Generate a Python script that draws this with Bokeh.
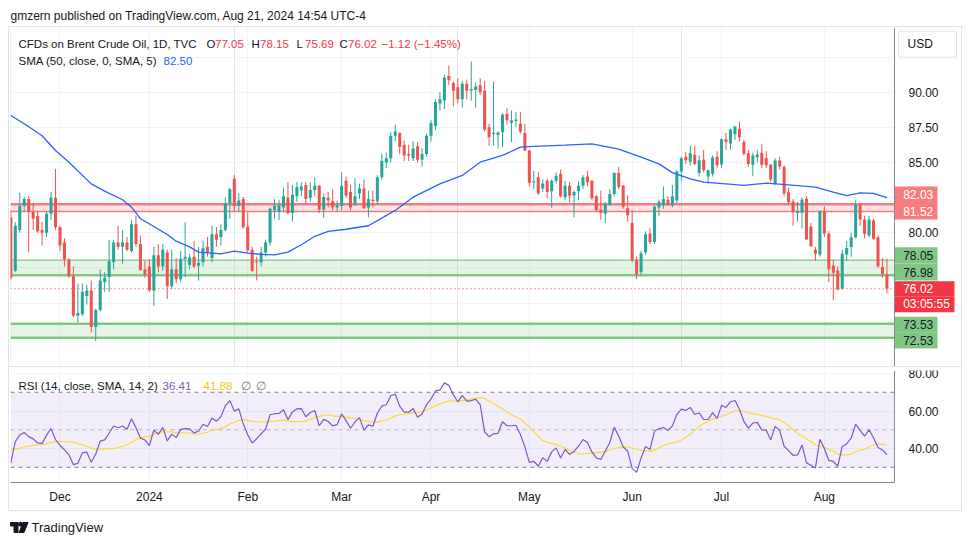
import pandas as pd
from bokeh.plotting import figure
from bokeh.models import (Range1d, FixedTicker, Span, BoxAnnotation, Label, Grid,
                          NumeralTickFormatter, ColumnDataSource, Div, Spacer)
from bokeh.layouts import column, row
from bokeh.embed import file_html
from bokeh.resources import INLINE

# ---------------- data ----------------
first_day = "2023-11-16"
last_day = "2024-08-21"
holidays = ["2023-12-25", "2024-01-01", "2024-03-29"]

opens = [
    81.1, 77.3, 80.2, 81.9, 82.4, 81.5, 81.2, 80.2, 80.0, 81.35, 82.5,
    80.4, 79.3, 78.1, 76.9, 74.1, 74.2, 75.5, 75.9, 73.3, 74.5, 76.5, 76.85, 77.9, 79.3, 79.0, 79.3, 78.7, 80.6, 79.2, 77.4,
    77.6, 75.9, 78.4, 77.6, 78.6, 76.2, 77.4, 76.7, 78.15, 77.7, 78.3, 77.65, 77.9, 79.0, 78.2, 79.9, 79.7, 80.2, 82.1, 83.85, 81.9, 82.4,
    80.45, 78.8, 77.95, 77.9, 78.6, 79.3, 81.6, 81.5, 81.8, 82.5, 81.4, 82.6, 83.0, 83.4, 82.5, 83.05, 83.35, 81.65, 82.5, 82.25, 81.8,
    81.9, 83.7, 82.9, 82.0, 82.8, 83.15, 81.8, 82.35, 82.25, 83.95, 85.0, 85.3, 86.9, 87.1, 86.25, 85.6, 85.3, 86.15, 85.2, 85.6,
    86.9, 87.6, 89.2, 89.4, 91.15, 90.65, 90.35, 89.5, 90.6, 90.1, 90.15, 90.5, 90.1, 87.5, 87.05, 86.95, 87.15, 88.45, 87.8, 87.95, 87.75, 87.1,
    85.85, 83.6, 83.95, 83.15, 83.7, 82.95, 83.7, 84.2, 82.55, 83.35, 82.65, 82.95, 83.35, 84.0, 83.7, 82.6, 81.65, 81.35, 82.0, 82.75, 84.25, 83.35, 81.75,
    80.7, 78.1, 77.2, 78.6, 79.95, 79.35, 81.8, 81.95, 82.35, 81.95, 82.3, 84.35, 85.4, 85.05, 85.55, 84.25, 85.2, 84.0, 84.2, 85.4,
    84.85, 86.65, 86.35, 87.0, 87.4, 86.45, 85.66, 84.83, 85.38, 85.69, 85.3, 84.83, 83.48, 85.14, 84.67, 82.89, 82.23, 81.4, 81.42, 82.42, 80.45, 78.81, 78.43,
    81.52, 79.93, 77.67, 77.32, 76.02, 78.43, 78.98, 79.69, 81.99, 80.95, 79.81, 80.88, 79.69, 77.56, 77.05,
]
highs = [
    81.6, 80.75, 82.85, 82.55, 82.6, 82.1, 81.5, 80.8, 81.5, 82.9, 84.55,
    80.5, 79.6, 78.2, 77.6, 76.4, 76.4, 76.3, 76.6, 74.6, 77.4, 77.2, 79.5, 79.5, 80.5, 80.2, 79.7, 80.9, 81.2, 79.8, 78.0,
    78.1, 79.0, 79.2, 79.2, 78.8, 78.8, 78.2, 78.7, 80.75, 78.5, 79.4, 79.0, 79.45, 79.7, 80.5, 80.4, 80.6, 82.5, 83.2, 84.1, 82.8, 82.55,
    81.45, 79.0, 78.3, 79.0, 79.5, 81.8, 82.4, 82.35, 83.2, 83.6, 83.4, 83.6, 83.6, 83.6, 83.6, 83.95, 83.4, 82.8, 82.9, 83.1, 82.3,
    84.3, 84.0, 83.4, 83.9, 83.5, 83.8, 83.0, 83.0, 84.1, 85.6, 85.7, 87.15, 87.7, 87.15, 86.55, 86.25, 86.5, 86.45, 86.0, 87.05,
    88.0, 89.5, 90.0, 91.25, 91.9, 90.75, 91.0, 90.8, 90.9, 92.18, 90.7, 91.0, 90.8, 87.75, 90.75, 87.2, 88.5, 88.87, 88.7, 88.6, 88.6, 87.75,
    85.9, 84.4, 84.3, 83.8, 83.85, 83.8, 84.3, 84.5, 83.7, 83.6, 83.0, 83.65, 84.1, 84.4, 83.75, 82.7, 83.0, 82.2, 83.1, 84.3, 84.7, 83.4, 82.65,
    81.6, 78.3, 78.7, 80.1, 80.35, 81.95, 82.35, 83.3, 82.6, 83.4, 84.45, 85.4, 85.75, 86.2, 86.2, 85.5, 85.9, 84.5, 85.5, 85.8,
    86.7, 87.1, 87.4, 87.6, 87.9, 86.6, 85.9, 85.7, 85.9, 86.33, 85.8, 84.9, 85.3, 85.4, 84.8, 83.2, 82.4, 82.2, 82.5, 82.6, 80.7, 79.0, 81.6,
    81.9, 80.1, 78.1, 77.6, 78.8, 79.4, 80.0, 82.3, 82.1, 81.2, 81.2, 81.0, 79.8, 78.2, 78.15,
]
lows = [
    76.6, 77.2, 80.0, 81.5, 78.6, 80.2, 80.0, 79.1, 79.7, 80.9, 80.2,
    78.7, 77.6, 76.8, 74.0, 73.6, 74.1, 74.9, 72.9, 72.3, 74.4, 75.8, 75.8, 77.4, 78.8, 77.8, 78.7, 78.6, 79.0, 77.3, 76.8,
    75.8, 74.8, 77.2, 77.3, 75.3, 76.0, 76.4, 76.5, 76.85, 77.4, 77.5, 76.6, 77.6, 78.3, 77.9, 79.0, 79.1, 80.1, 81.0, 81.5, 81.5, 80.3,
    78.6, 77.2, 76.6, 77.6, 78.3, 79.1, 81.0, 80.9, 81.5, 81.3, 80.8, 82.2, 82.6, 82.1, 82.2, 82.6, 81.4, 81.05, 81.8, 81.6, 81.5,
    81.6, 82.5, 81.6, 81.9, 82.4, 81.7, 81.1, 81.8, 82.0, 83.8, 84.6, 85.0, 86.5, 85.6, 85.1, 85.1, 85.1, 85.0, 84.7, 85.4,
    86.5, 87.3, 88.7, 88.8, 90.5, 89.0, 89.2, 88.9, 89.5, 89.4, 88.9, 89.8, 87.2, 86.2, 86.2, 86.0, 86.1, 87.7, 86.45, 87.5, 87.05, 85.8,
    83.3, 83.1, 82.7, 82.9, 82.45, 81.75, 83.5, 82.5, 82.3, 82.2, 81.1, 82.3, 83.1, 83.3, 82.3, 81.5, 80.9, 80.7, 81.9, 82.6, 83.1, 81.7, 80.8,
    77.9, 76.7, 77.0, 78.45, 79.2, 79.2, 81.2, 81.7, 81.9, 81.8, 82.1, 83.7, 84.9, 84.8, 84.8, 84.0, 84.3, 83.5, 84.0, 84.6,
    84.6, 85.9, 85.9, 86.6, 86.5, 85.5, 84.7, 84.05, 85.0, 84.6, 84.6, 83.6, 83.4, 84.5, 82.6, 82.0, 80.5, 80.8, 80.3, 79.5, 79.0, 78.0, 78.3,
    79.7, 76.5, 75.2, 75.9, 75.95, 78.0, 78.3, 79.6, 80.5, 79.6, 79.7, 79.5, 77.5, 76.8, 75.69,
]
closes = [
    76.8, 80.5, 81.9, 82.4, 81.5, 81.0, 80.1, 80.0, 81.35, 82.5, 80.4,
    79.1, 78.1, 76.9, 74.1, 74.3, 75.8, 75.9, 73.3, 74.5, 76.6, 76.8, 78.0, 79.3, 79.0, 79.3, 78.8, 80.6, 79.2, 77.35, 77.0,
    75.9, 78.4, 77.6, 78.8, 76.2, 77.4, 76.7, 78.15, 78.3, 78.25, 77.6, 77.85, 78.9, 78.6, 79.9, 79.5, 80.2, 82.1, 83.1, 81.9, 82.3, 80.4,
    78.75, 77.3, 77.9, 78.6, 79.3, 81.7, 81.9, 81.95, 82.6, 81.4, 82.7, 83.25, 83.3, 82.4, 83.05, 83.35, 81.65, 82.55, 82.3, 81.8, 81.95,
    83.35, 82.65, 81.8, 82.6, 83.15, 81.75, 82.4, 82.25, 83.95, 85.1, 85.3, 86.9, 87.2, 86.1, 85.5, 85.5, 86.0, 85.2, 85.6, 86.9,
    87.8, 89.3, 89.5, 91.05, 90.85, 90.1, 89.5, 90.6, 90.1, 90.2, 90.4, 90.0, 87.35, 86.8, 87.1, 87.15, 88.4, 88.0, 88.0, 88.05, 87.2, 85.85,
    83.55, 83.65, 82.8, 83.5, 82.9, 83.7, 84.05, 82.6, 83.35, 82.65, 82.9, 83.35, 83.95, 83.6, 82.45, 81.6, 81.4, 82.05, 82.75, 84.25, 83.25, 81.85, 81.25,
    78.05, 77.05, 78.55, 79.9, 79.35, 81.85, 82.2, 82.4, 82.0, 82.6, 84.35, 85.3, 85.15, 85.65, 84.9, 85.15, 84.45, 84.45, 85.35, 84.8,
    86.65, 86.45, 87.35, 87.55, 86.8, 85.62, 84.9, 85.5, 85.57, 84.83, 84.8, 83.79, 85.14, 84.72, 82.8, 82.18, 81.47, 81.5, 82.37, 79.52, 79.05, 78.5, 81.52,
    79.93, 77.39, 77.15, 75.97, 78.5, 78.91, 79.69, 81.99, 80.95, 79.93, 80.95, 79.57, 77.63, 77.08, 76.02,
]

sma_dates = ["2023-11-16", "2023-11-21", "2023-11-27", "2023-11-30", "2023-12-05", "2023-12-12",
             "2023-12-15", "2023-12-21", "2023-12-26", "2023-12-28", "2024-01-03", "2024-01-08",
             "2024-01-10", "2024-01-15", "2024-01-17", "2024-01-24", "2024-01-29", "2024-02-01",
             "2024-02-06", "2024-02-09", "2024-02-14", "2024-02-19", "2024-02-22", "2024-02-27",
             "2024-03-04", "2024-03-11", "2024-03-19", "2024-03-25", "2024-04-03", "2024-04-10",
             "2024-04-16", "2024-04-23", "2024-04-29", "2024-05-02", "2024-05-13", "2024-05-21",
             "2024-05-29", "2024-06-05", "2024-06-11", "2024-06-14", "2024-06-20", "2024-06-25",
             "2024-07-02", "2024-07-08", "2024-07-15", "2024-07-22", "2024-07-30", "2024-08-05",
             "2024-08-08", "2024-08-13", "2024-08-16", "2024-08-21"]
sma_values = [88.34, 87.75, 86.9, 85.85, 85.02, 83.48,
              82.96, 82.35, 81.82, 81.0, 80.45, 79.88,
              79.4, 79.0, 78.62, 78.5, 78.69, 78.55,
              78.46, 78.43, 78.62, 79.15, 79.75, 80.1,
              80.25, 80.5, 81.59, 82.53, 83.48, 84.08,
              85.02, 85.5, 86.09, 86.14, 86.23, 86.33,
              85.95, 85.38, 84.9, 84.28, 83.84, 83.6,
              83.48, 83.37, 83.53, 83.41, 83.25, 82.89,
              82.65, 82.84, 82.8, 82.5]

zone_red = (81.52, 82.03)
zone_green_upper = (76.98, 78.05)
zone_green_lower = (72.53, 73.53)
countdown = "03:05:55"

month_labels = ["Dec", "2024", "Feb", "Mar", "Apr", "May", "Jun", "Jul", "Aug"]
price_ticks = [72.5, 75.0, 77.5, 80.0, 82.5, 85.0, 87.5, 90.0, 92.5]
price_ticks_unlabelled = [72.5, 75.0, 77.5, 82.5, 92.5]
rsi_ticks = [40, 60, 80]
rsi_period = 14
rsi_ma_period = 14
rsi_seed_avg_gain = 0.45
rsi_seed_avg_loss = 0.95
rsi_ma_seed = 40.0

header_text = "gmzern published on TradingView.com, Aug 21, 2024 14:54 UTC-4"
symbol_text = "CFDs on Brent Crude Oil, 1D, TVC"
ohlc_change = "\u22121.12 (\u22121.45%)"
sma_legend = "SMA (50, close, 0, SMA, 5)"
sma_last = "82.50"
rsi_legend = "RSI (14, close, SMA, 14, 2)"
rsi_last = "36.41"
rsi_ma_last = "41.88"

# ---------------- style / geometry ----------------
FONT = "Liberation Sans"
TXT = "#131722"
UP, DOWN = "#26a69a", "#ef5350"
RED_TXT = "#f23645"
GRID = "#f0f3fa"
AXIS = "#868993"
LEG = "11.5px"

FRAME_L = 10
PANE_W = 884          # candle area width (px)
FULL_W = 951          # candle area + price scale (px)
PX_BAR = 4.47
X0 = -0.07
X_AX = X0 + PANE_W / PX_BAR
X1 = X0 + FULL_W / PX_BAR
MAIN_TOP, MAIN_H = 27, 339
PX_USD = 14.06
P_TOP = 94.60
P_BOT = P_TOP - MAIN_H / PX_USD
RSI_TOP, RSI_H = 370, 112
PX_RSI = 1.875
R_TOP = 81.6
R_BOT = R_TOP - RSI_H / PX_RSI

n = len(closes)
dates = pd.bdate_range(first_day, last_day)
dates = dates[~dates.isin(pd.to_datetime(holidays))][:n]
pos = {d.strftime("%Y-%m-%d"): i for i, d in enumerate(dates)}
bars = list(range(n))

month_idx = []
prev = None
for i, d in enumerate(dates):
    key = (d.year, d.month)
    if prev is not None and key != prev:
        month_idx.append(i)
    prev = key

# RSI (Wilder) from the closes
rsi = []
ag, al = rsi_seed_avg_gain, rsi_seed_avg_loss
for i, c in enumerate(closes):
    if i:
        d = c - closes[i - 1]
        ag = (ag * (rsi_period - 1) + max(d, 0)) / rsi_period
        al = (al * (rsi_period - 1) + max(-d, 0)) / rsi_period
    rsi.append(100 - 100 / (1 + ag / al))
padded = [rsi_ma_seed] * (rsi_ma_period - 1) + rsi
rsi_ma = [sum(padded[i:i + rsi_ma_period]) / rsi_ma_period for i in range(n)]


def xpx(px):
    return X0 + (px - FRAME_L) / PX_BAR


def ypx_main(py):
    return P_TOP - (py - MAIN_TOP) / PX_USD


def ypx_rsi(py):
    return R_TOP - (py - RSI_TOP) / PX_RSI


def text_label(fig, x, y, s, color=TXT, size=LEG, **kw):
    fig.add_layout(Label(x=x, y=y, text=s, text_font=FONT, text_font_size=size,
                         text_color=color, text_baseline="middle", text_align="left", **kw))


def style_price_axis(ax, ticker):
    ax.ticker = ticker
    ax.fixed_location = X_AX
    ax.formatter = NumeralTickFormatter(format="0.00")
    ax.axis_line_color = AXIS
    ax.major_tick_line_color = None
    ax.minor_tick_line_color = None
    ax.major_label_standoff = 8
    ax.major_label_text_font = FONT
    ax.major_label_text_font_size = "12px"
    ax.major_label_text_color = TXT


# ---------------- main pane ----------------
p = figure(width=952, height=MAIN_H, x_range=Range1d(X0, X1), y_range=Range1d(P_BOT, P_TOP),
           x_axis_location=None, y_axis_location="right", output_backend="svg",
           toolbar_location=None, min_border_left=1, min_border_right=0,
           min_border_top=0, min_border_bottom=0, outline_line_color=None)
pt = FixedTicker(ticks=price_ticks)
style_price_axis(p.yaxis[0], pt)
p.ygrid.ticker = pt
p.yaxis.major_label_overrides = {t: "" for t in price_ticks_unlabelled}
p.ygrid.grid_line_color = GRID
p.add_layout(Grid(dimension=0, ticker=FixedTicker(ticks=month_idx), grid_line_color=GRID))

for (lo, hi), col in ((zone_red, "#f77c80"), (zone_green_upper, "#81c784"), (zone_green_lower, "#81c784")):
    p.add_layout(BoxAnnotation(bottom=lo, top=hi, right=X_AX, fill_color=col, fill_alpha=0.2,
                               line_color=None, level="underlay"))
p.add_layout(Span(location=zone_red[1], dimension="width", line_color="#f77c80", line_width=2.5, level="underlay"))
p.add_layout(Span(location=zone_red[0], dimension="width", line_color="#f77c80", line_width=1.5, level="underlay"))
p.add_layout(Span(location=zone_green_upper[1], dimension="width", line_color="#81c784", line_width=1.2, level="underlay"))
p.add_layout(Span(location=zone_green_upper[0], dimension="width", line_color="#81c784", line_width=2.5, level="underlay"))
p.add_layout(Span(location=zone_green_lower[1], dimension="width", line_color="#81c784", line_width=2.5, level="underlay"))
p.add_layout(Span(location=zone_green_lower[0], dimension="width", line_color="#81c784", line_width=2.5, level="underlay"))
p.add_layout(Span(location=closes[-1], dimension="width", line_color=RED_TXT, line_width=1,
                  line_dash="1 3", level="underlay"))
# price-scale panel background
p.add_layout(BoxAnnotation(left=X_AX, fill_color="white", fill_alpha=1.0, line_color=None, level="underlay"))

tops, bots, cols = [], [], []
for o, c in zip(opens, closes):
    hi, lo = max(o, c), min(o, c)
    if hi - lo < 0.07:
        m = (hi + lo) / 2
        hi, lo = m + 0.035, m - 0.035
    tops.append(hi)
    bots.append(lo)
    cols.append(UP if c >= o else DOWN)
src = ColumnDataSource(dict(x=bars, h=highs, l=lows, top=tops, bot=bots, color=cols))
p.segment(x0="x", y0="h", x1="x", y1="l", source=src, line_color="color", line_width=1)
p.vbar(x="x", top="top", bottom="bot", width=0.68, source=src, fill_color="color", line_color=None)

p.line([pos[d] for d in sma_dates], sma_values, line_color="#2962ff", line_width=1.3)

# legend texts
text_label(p, xpx(18), ypx_main(43), symbol_text)
ohlc = [("O", opens[-1], 206), ("H", highs[-1], 251), ("L", lows[-1], 296), ("C", closes[-1], 339)]
for letter, v, xx in ohlc:
    text_label(p, xpx(xx), ypx_main(43), letter)
    text_label(p, xpx(xx + 8.5), ypx_main(43), f"{v:.2f}", color=RED_TXT)
text_label(p, xpx(381), ypx_main(43), ohlc_change, color=RED_TXT)
text_label(p, xpx(18), ypx_main(60), sma_legend)
text_label(p, xpx(163), ypx_main(60), sma_last, color="#2962ff")


# price-scale tags: box drawn as a quad in the price-scale panel, text as a label
def tag(level, shift_px, txt, bg, fg, box_w=43.0, half_h=8.2):
    yc = level + shift_px / PX_USD
    p.quad(left=[X_AX + 0.4 / PX_BAR], right=[X_AX + box_w / PX_BAR],
           top=[yc + half_h / PX_USD], bottom=[yc - half_h / PX_USD],
           fill_color=bg, line_color=None)
    p.add_layout(Label(x=X_AX, y=yc, x_offset=8.7, text=txt, text_align="left", text_baseline="middle",
                       text_font=FONT, text_font_size="12px", text_color=fg))


tag(zone_red[1], 9.55, f"{zone_red[1]:.2f}", "#f77c80", "white")
tag(zone_red[0], 0.15, f"{zone_red[0]:.2f}", "#f77c80", "white")
tag(zone_green_upper[1], 4.7, f"{zone_green_upper[1]:.2f}", "#81c784", TXT)
tag(zone_green_upper[0], 3.0, f"{zone_green_upper[0]:.2f}", "#81c784", TXT)
tag(closes[-1], -0.15, f"{closes[-1]:.2f}", RED_TXT, "white", box_w=60, half_h=7.75)
tag(closes[-1], -15.65, countdown, RED_TXT, "white", box_w=60, half_h=7.75)
tag(zone_green_lower[1], -0.9, f"{zone_green_lower[1]:.2f}", "#81c784", TXT, half_h=8.0)
tag(zone_green_lower[0], -2.8, f"{zone_green_lower[0]:.2f}", "#81c784", TXT, half_h=8.0)

# currency box
p.quad(left=[X_AX + 4 / PX_BAR], right=[X_AX + 62 / PX_BAR], top=[ypx_main(30.7)], bottom=[ypx_main(56.7)],
       fill_color="white", line_color="#e0e3eb", line_width=1)
p.add_layout(Label(x=X_AX, y=ypx_main(43.7), x_offset=13, text="USD", text_align="left",
                   text_baseline="middle", text_font=FONT, text_font_size="12px", text_color=TXT))

# ---------------- RSI pane ----------------
r = figure(width=952, height=3 + RSI_H + 28, x_range=p.x_range, y_range=Range1d(R_BOT, R_TOP),
           x_axis_location="below", y_axis_location="right", output_backend="svg",
           toolbar_location=None, min_border_left=1, min_border_right=0,
           min_border_top=3, min_border_bottom=28, outline_line_color=None)
rt = FixedTicker(ticks=rsi_ticks)
style_price_axis(r.yaxis[0], rt)
r.ygrid.ticker = rt
mt = FixedTicker(ticks=month_idx)
xa = r.xaxis[0]
xa.ticker = mt
r.xgrid.ticker = mt
xa.bounds = (X0, X_AX)
xa.major_label_overrides = {i: lab for i, lab in zip(month_idx, month_labels)}
xa.axis_line_color = AXIS
xa.major_tick_line_color = None
xa.minor_tick_line_color = None
xa.major_label_text_font = FONT
xa.major_label_text_font_size = "12px"
xa.major_label_text_color = TXT
xa.major_label_standoff = 1
r.xgrid.grid_line_color = GRID
r.ygrid.grid_line_color = GRID

r.add_layout(BoxAnnotation(bottom=30, top=70, right=X_AX, fill_color="#7e57c2", fill_alpha=0.1,
                           line_color=None, level="underlay"))
for lvl, a in ((70, 1.0), (50, 0.5), (30, 1.0)):
    r.add_layout(Span(location=lvl, dimension="width", line_color="#787b86", line_alpha=a,
                      line_dash="4 4", line_width=1, level="underlay"))
r.add_layout(BoxAnnotation(left=X_AX, fill_color="white", fill_alpha=1.0, line_color=None, level="underlay"))
r.line(bars, rsi_ma, line_color="#fdd835", line_width=1.2)
r.line(bars, rsi, line_color="#7e57c2", line_width=1.2)

text_label(r, xpx(18), ypx_rsi(385), rsi_legend)
text_label(r, xpx(162), ypx_rsi(385), rsi_last, color="#7e57c2")
text_label(r, xpx(203), ypx_rsi(385), rsi_ma_last, color="#f2c511")
text_label(r, xpx(240), ypx_rsi(385), "\u2205", color="#787b86")
text_label(r, xpx(255), ypx_rsi(385), "\u2205", color="#787b86")


# ---------------- header & footer ----------------
def blank(h):
    f = figure(width=954, height=h, x_range=Range1d(0, 954), y_range=Range1d(0, h),
               x_axis_location=None, y_axis_location=None, output_backend="svg",
               toolbar_location=None, min_border=0, outline_line_color=None)
    f.grid.visible = False
    return f


head = blank(18)
text_label(head, 2, 11, header_text, size="12px")

foot = blank(25)
foot.quad(left=[2, 5.5], right=[9.5, 9.5], top=[14, 14], bottom=[10.5, 4], color=TXT)
foot.scatter([12.2], [12.3], size=4, color=TXT)
foot.patch([14.5, 19.5, 15.5, 10.5], [14, 14, 4, 4], color=TXT)
text_label(foot, 23, 9, "TradingView", size="13px")

sep = Div(width=952, height=1, margin=(0, 0, 0, 0), styles={"background-color": "#e0e3eb"})
chart = column(p, sep, r, styles={"border": "1px solid #e0e3eb"})
layout = row(Spacer(width=8, height=10), column(Spacer(width=10, height=8), head, chart, foot))

open("out.html", "w").write(file_html(layout, INLINE))
